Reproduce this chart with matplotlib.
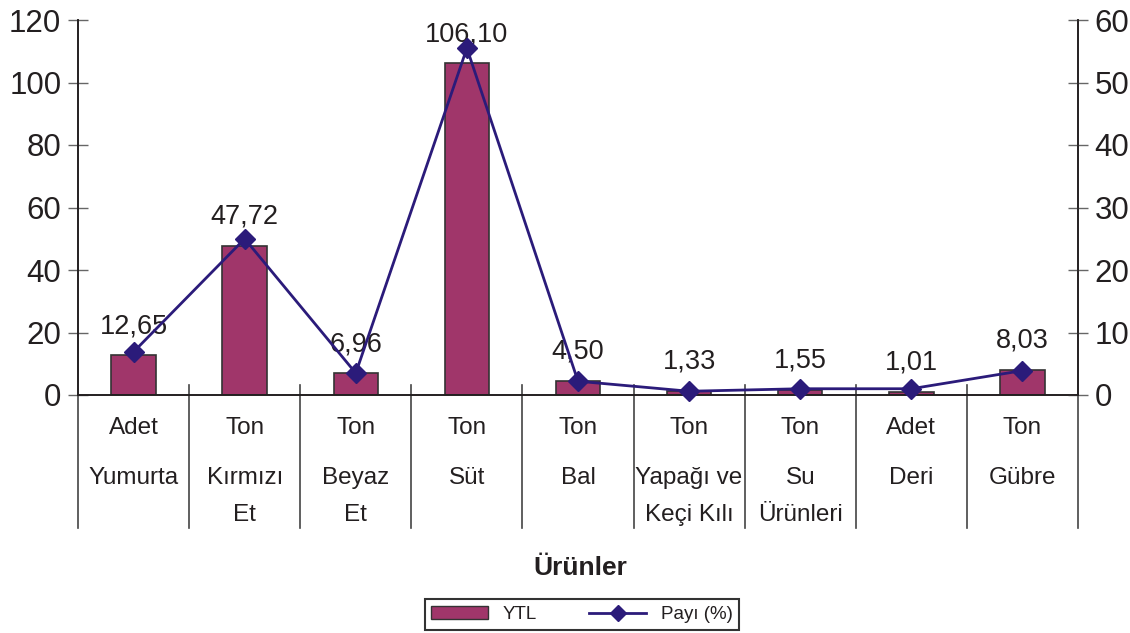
import numpy as np
import matplotlib
matplotlib.use("Agg")
import matplotlib.pyplot as plt
from matplotlib.patches import Patch
from matplotlib.lines import Line2D

plt.rcParams['font.family'] = ['Liberation Sans', 'DejaVu Sans']
plt.rcParams['text.color'] = '#231f20'

# data
units = ['Adet', 'Ton', 'Ton', 'Ton', 'Ton', 'Ton', 'Ton', 'Adet', 'Ton']
products = ['Yumurta', 'Kırmızı\nEt', 'Beyaz\nEt', 'Süt', 'Bal',
            'Yapağı ve\nKeçi Kılı', 'Su\nÜrünleri', 'Deri', 'Gübre']
ytl = [12.65, 47.72, 6.96, 106.10, 4.50, 1.33, 1.55, 1.01, 8.03]
share = [6.9, 25.0, 3.5, 55.5, 2.2, 0.6, 1.0, 1.0, 3.9]

bar_col = '#a0366a'
line_col = '#2b1b7a'
dark = '#231f20'

fig = plt.figure(figsize=(11.3, 6.33), dpi=100)
ax = fig.add_axes([78 / 1130, 1 - 395 / 633, 1000 / 1130, 375 / 633])
ax2 = ax.twinx()

x = np.arange(len(ytl))
ax.bar(x, ytl, width=0.4, color=bar_col, edgecolor='#333333', linewidth=1.2, zorder=2)
ax2.plot(x, share, color=line_col, lw=2.0, marker='D', ms=10, zorder=3, clip_on=False)

# value labels
for xi, v in zip(x, ytl):
    ax.annotate(f'{v:.2f}'.replace('.', ','), xy=(xi, v), xytext=(0, 21),
                textcoords='offset points', ha='center', va='center', fontsize=19.5)

ax.set_xlim(-0.5, len(ytl) - 0.5)
ax.set_ylim(0, 120)
ax2.set_ylim(0, 60)
ax.set_yticks(np.arange(0, 121, 20))
ax2.set_yticks(np.arange(0, 61, 10))
ax.set_xticks([])
ax2.set_xticks([])

for a in (ax, ax2):
    a.spines['top'].set_visible(False)
    for s in a.spines.values():
        s.set_color(dark)
        s.set_linewidth(1.2)
    a.tick_params(axis='y', direction='inout', length=14, width=1.0,
                  color='#666666', labelsize=22.5, labelcolor=dark, pad=5)
ax.set_zorder(ax2.get_zorder() - 1)
ax.patch.set_visible(True)
ax2.patch.set_visible(False)

# category separators, crossing the baseline and running down through the labels
for b in np.arange(-0.5, len(ytl), 1.0):
    ax.plot([b, b], [-133 / 375, 10 / 375 if 0 < b < len(ytl) - 1 else 0],
            transform=ax.get_xaxis_transform(), color='#444444', lw=1.2, clip_on=False)

# two-level category labels
for xi, u, p in zip(x, units, products):
    ax.annotate(u, xy=(xi, 0), xycoords=('data', 'axes fraction'), xytext=(0, -23.5),
                textcoords='offset points', ha='center', va='center', fontsize=17.5)
    for k, line in enumerate(p.split('\n')):
        ax.annotate(line, xy=(xi, 0), xycoords=('data', 'axes fraction'),
                    xytext=(0, -60 - 26.5 * k), textcoords='offset points',
                    ha='center', va='center', fontsize=17.5)

fig.text(580 / 1130, 1 - 568 / 633, 'Ürünler', ha='center', va='center',
         fontsize=19, fontweight='bold')

handles = [Patch(facecolor=bar_col, edgecolor='#333333', label='YTL'),
           Line2D([], [], color=line_col, lw=2.0, marker='D', ms=8, label='Payı (%)')]
leg = fig.legend(handles=handles, loc='center', bbox_to_anchor=(582 / 1130, 1 - 614.5 / 633),
                 ncol=2, fontsize=13.5, frameon=True, fancybox=False, edgecolor='black',
                 handlelength=3, handleheight=0.7, columnspacing=2.8,
                 borderpad=0.35, handletextpad=0.8)
leg.get_frame().set_linewidth(1.5)

fig.savefig('out.png', dpi=100)
